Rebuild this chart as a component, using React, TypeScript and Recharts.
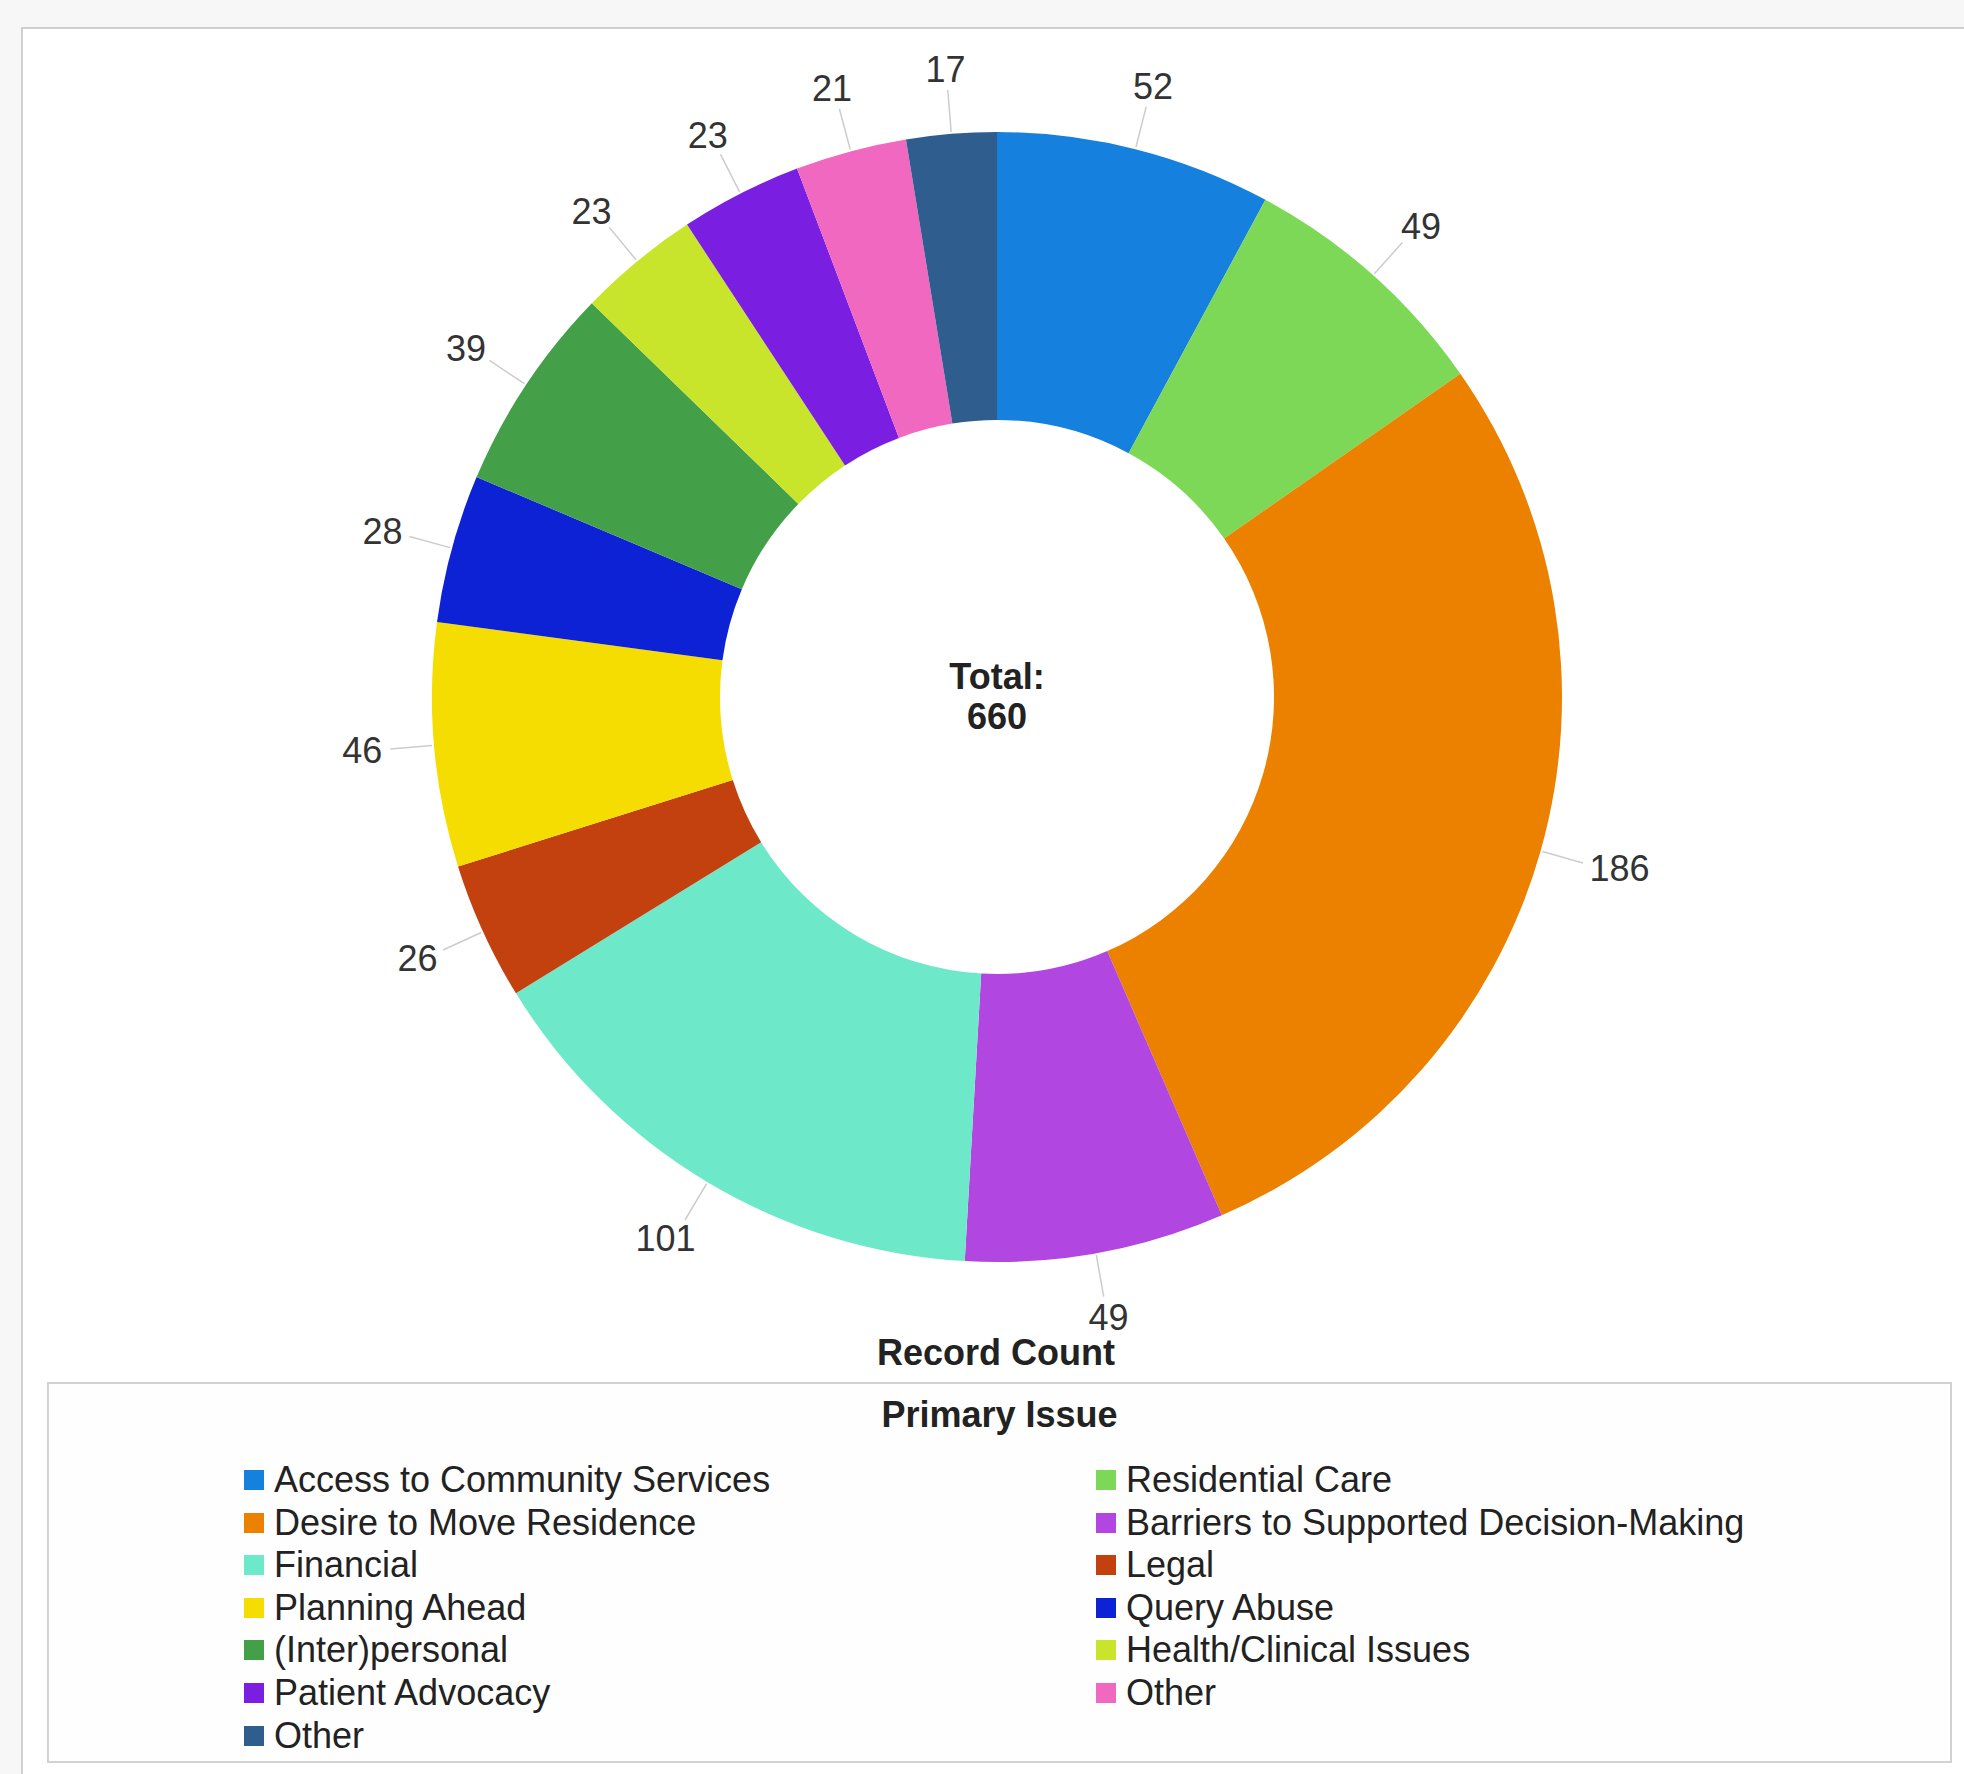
import { Cell, Pie, PieChart } from "recharts";

const CATEGORIES = [
  "Access to Community Services",
  "Residential Care",
  "Desire to Move Residence",
  "Barriers to Supported Decision-Making",
  "Financial",
  "Legal",
  "Planning Ahead",
  "Query Abuse",
  "(Inter)personal",
  "Health/Clinical Issues",
  "Patient Advocacy",
  "Other",
  "Other",
];

const VALUES = [52, 49, 186, 49, 101, 26, 46, 28, 39, 23, 23, 21, 17];

const COLORS = [
  "#1580de",
  "#7dd858",
  "#ec8100",
  "#b146e1",
  "#6de9c9",
  "#c2410f",
  "#f5dd02",
  "#0e22d5",
  "#43a048",
  "#c9e52b",
  "#7a1ee2",
  "#f168c1",
  "#2f5e8e",
];

const FONT = '"Liberation Sans", Arial, sans-serif';
const RAD = Math.PI / 180;

const data = CATEGORIES.map((name, i) => ({ name, value: VALUES[i] }));
const total = VALUES.reduce((sum, v) => sum + v, 0);

// Подпись значения снаружи кольца: короткая выноска и число, прижатое к ней
// ближайшим к центру краем.
function renderLabel(props: any) {
  const { cx, cy, midAngle, outerRadius, value } = props;
  const a = -midAngle * RAD;
  const dx = Math.cos(a);
  const dy = Math.sin(a);
  const text = String(value);
  const w = text.length * 0.556 * 36;
  const h = 26;
  const rt = outerRadius + 52;
  const tx = cx + rt * dx + (dx * w) / 2;
  const ty = cy + rt * dy + (dy * h) / 2;
  return (
    <g>
      <line
        x1={cx + (outerRadius + 2) * dx}
        y1={cy + (outerRadius + 2) * dy}
        x2={cx + (outerRadius + 44) * dx}
        y2={cy + (outerRadius + 44) * dy}
        stroke="#cccccc"
        strokeWidth={1.5}
      />
      <text
        x={tx}
        y={ty}
        textAnchor="middle"
        dominantBaseline="central"
        fill="#333333"
        fontSize={36}
        fontFamily={FONT}
      >
        {text}
      </text>
    </g>
  );
}

export default function App() {
  return (
    <div
      style={{
        position: "absolute",
        left: 0,
        top: 0,
        width: 1964,
        height: 1774,
        overflow: "hidden",
        background: "#f7f7f7",
        fontFamily: FONT,
      }}
    >
      <div
        style={{
          position: "absolute",
          left: 21,
          top: 27,
          width: 2000,
          height: 1800,
          background: "#ffffff",
          borderLeft: "2px solid #cfcfcf",
          borderTop: "2px solid #cfcfcf",
        }}
      />
      <div style={{ position: "absolute", left: 0, top: 0 }}>
        <PieChart width={1964} height={1380}>
          <Pie
            data={data}
            dataKey="value"
            nameKey="name"
            cx={992}
            cy={692}
            innerRadius={277}
            outerRadius={565}
            startAngle={90}
            endAngle={-270}
            stroke="none"
            label={renderLabel}
            labelLine={false}
            isAnimationActive={false}
          >
            {data.map((entry, i) => (
              <Cell key={i} fill={COLORS[i]} />
            ))}
          </Pie>
        </PieChart>
      </div>
      <div
        style={{
          position: "absolute",
          left: 897,
          width: 200,
          top: 657,
          textAlign: "center",
          fontWeight: "bold",
          fontSize: 36,
          lineHeight: "40px",
          color: "#222",
        }}
      >
        Total:
        <br />
        {total}
      </div>
      <div
        style={{
          position: "absolute",
          left: 696,
          width: 600,
          top: 1332,
          textAlign: "center",
          fontWeight: "bold",
          fontSize: 36,
          lineHeight: "42px",
          color: "#222",
        }}
      >
        Record Count
      </div>
      <div
        style={{
          position: "absolute",
          left: 47,
          top: 1382,
          width: 1901,
          height: 377,
          background: "#fefefe",
          border: "2px solid #d2d2d2",
        }}
      >
        <div
          style={{
            position: "absolute",
            left: 0,
            right: 0,
            top: 10,
            textAlign: "center",
            fontWeight: "bold",
            fontSize: 36,
            lineHeight: "42px",
            color: "#222",
          }}
        >
          Primary Issue
        </div>
        {CATEGORIES.map((name, i) => (
          <div
            key={i}
            style={{
              position: "absolute",
              left: i % 2 === 0 ? 195 : 1047,
              top: 75 + Math.floor(i / 2) * 42.6,
              height: 42,
              display: "flex",
              alignItems: "center",
              fontSize: 36,
              color: "#222",
              whiteSpace: "nowrap",
            }}
          >
            <span
              style={{
                display: "inline-block",
                width: 20,
                height: 20,
                marginRight: 10,
                background: COLORS[i],
              }}
            />
            {name}
          </div>
        ))}
      </div>
    </div>
  );
}
